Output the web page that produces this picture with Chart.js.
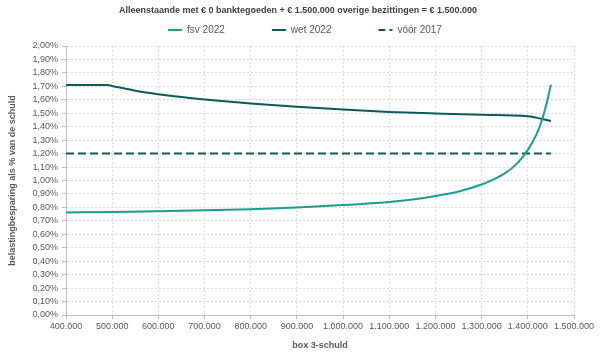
<!DOCTYPE html>
<html>
<head>
<meta charset="utf-8">
<script src="https://cdn.jsdelivr.net/npm/chart.js@4.4.1/dist/chart.umd.min.js"></script>
<style>
  html, body { margin: 0; padding: 0; background: #ffffff; }
  #wrap { width: 600px; height: 357px; }
</style>
</head>
<body>
<div id="wrap"><canvas id="c" width="600" height="357"></canvas></div>
<script>
// ---- data ----
const chartTitle = 'Alleenstaande met € 0 banktegoeden + € 1.500.000 overige bezittingen = € 1.500.000';
const seriesNames = ['fsv 2022', 'wet 2022', 'vóór 2017'];
const xAxisTitle = 'box 3-schuld';
const yAxisTitle = 'belastingbesparing als % van de schuld';

const fsvX = [400000, 500000, 600000, 700000, 800000, 900000, 1000000, 1100000, 1150000, 1200000, 1250000,
              1300000, 1325000, 1350000, 1370000, 1390000, 1400000, 1410000, 1420000, 1430000, 1440000, 1450000];
const fsvY = [0.762, 0.766, 0.771, 0.778, 0.787, 0.800, 0.817, 0.840, 0.858, 0.884, 0.918,
              0.970, 1.006, 1.053, 1.105, 1.180, 1.228, 1.285, 1.352, 1.443, 1.563, 1.713];

const wetX = [400000, 490000, 500000, 550000, 600000, 650000, 700000, 800000, 900000, 1000000,
              1100000, 1200000, 1300000, 1400000, 1450000];
const wetY = [1.710, 1.710, 1.703, 1.668, 1.642, 1.620, 1.602, 1.572, 1.548, 1.527,
              1.510, 1.498, 1.488, 1.478, 1.442];

const pre2017X = [400000, 1450000];
const pre2017Y = [1.20, 1.20];

const xMin = 400000, xMax = 1500000, xStep = 100000;
const yMin = 0, yMax = 2, yStep = 0.1;

// ---- helpers ----
const toPoints = (xs, ys) => xs.map((x, i) => ({ x: x, y: ys[i] }));
const fmtThousands = v => Math.round(v).toString().replace(/\B(?=(\d{3})+(?!\d))/g, '.');
const fmtPct = v => v.toFixed(2).replace('.', ',') + '%';

const FONT = "'Liberation Sans', Arial, sans-serif";
const TEXT = '#595959';
const GRID = '#d9d9d9';
const AXIS = '#bfbfbf';
const C_FSV = '#1a9e8c';
const C_WET = '#0f5a56';

// place title and legend band (Chart.js uses one legend padding value for both directions)
const headerBand = {
  id: 'headerBand',
  afterInit(chart) {
    const lg = chart.legend;
    if (!lg) return;
    const fit = lg.fit;
    lg.fit = function () { fit.call(this); this.height = 25.6; };
  },
  afterLayout(chart) {
    const lg = chart.legend;
    if (lg) {
      const pad = lg.options.labels.padding;
      const fs = lg.options.labels.font.size;
      lg.top = 30 - pad - fs / 2;
      lg.left += 18;
      lg.right += 18;
    }
    const tb = chart.titleBlock;
    if (tb) { tb.left += 11; tb.right += 11; }
  }
};

new Chart(document.getElementById('c'), {
  type: 'line',
  data: {
    datasets: [
      {
        label: seriesNames[0],
        data: toPoints(fsvX, fsvY),
        borderColor: C_FSV, backgroundColor: C_FSV,
        borderWidth: 2, pointRadius: 0, cubicInterpolationMode: 'monotone', fill: false
      },
      {
        label: seriesNames[1],
        data: toPoints(wetX, wetY),
        borderColor: C_WET, backgroundColor: C_WET,
        borderWidth: 2, pointRadius: 0, cubicInterpolationMode: 'monotone', fill: false
      },
      {
        label: seriesNames[2],
        data: toPoints(pre2017X, pre2017Y),
        borderColor: C_WET, backgroundColor: C_WET,
        borderWidth: 2, borderDash: [8, 4], pointRadius: 0, fill: false
      }
    ]
  },
  options: {
    responsive: false,
    animation: false,
    devicePixelRatio: 1,
    layout: { padding: { left: 0, right: 26, top: 0, bottom: 0 } },
    plugins: {
      title: {
        display: true,
        text: chartTitle,
        color: '#404040',
        font: { family: FONT, size: 9, weight: 'bold' },
        padding: { top: 5.6, bottom: 4 }
      },
      legend: {
        display: true,
        position: 'top',
        labels: {
          color: TEXT,
          font: { family: FONT, size: 10 },
          usePointStyle: true,
          pointStyle: 'line',
          pointStyleWidth: 14,
          padding: 47,
          generateLabels: (chart) => {
            const items = Chart.defaults.plugins.legend.labels.generateLabels(chart);
            items.forEach(it => {
              const ds = chart.data.datasets[it.datasetIndex];
              it.lineDash = ds.borderDash ? [7, 4] : [];
              it.strokeStyle = ds.borderColor;
              it.lineWidth = ds.borderWidth;
            });
            return items;
          }
        }
      },
      tooltip: { enabled: false }
    },
    scales: {
      x: {
        type: 'linear',
        min: xMin, max: xMax,
        afterFit: s => { s.height = 42; },
        ticks: {
          stepSize: xStep,
          color: TEXT,
          font: { family: FONT, size: 9 },
          padding: 2,
          maxRotation: 0,
          autoSkip: false,
          callback: v => fmtThousands(v)
        },
        grid: { color: GRID, lineWidth: 1, tickLength: 4, tickColor: AXIS, tickBorderDash: [] },
        border: { display: true, color: AXIS, width: 1, dash: [2, 2] },
        title: {
          display: true, text: xAxisTitle, color: TEXT,
          font: { family: FONT, size: 9, weight: 'bold' },
          padding: { top: 0, bottom: 5.6 }
        }
      },
      y: {
        type: 'linear',
        min: yMin, max: yMax,
        afterFit: s => { s.width = 66; },
        ticks: {
          stepSize: yStep,
          color: TEXT,
          font: { family: FONT, size: 9 },
          padding: 4,
          autoSkip: false,
          callback: v => fmtPct(v)
        },
        grid: { color: GRID, lineWidth: 1, tickLength: 4, tickColor: AXIS, tickBorderDash: [] },
        border: { display: true, color: AXIS, width: 1, dash: [2, 2] },
        title: {
          display: true, text: yAxisTitle, color: TEXT,
          font: { family: FONT, size: 9, weight: 'bold' },
          padding: { top: 7.6, bottom: 0 }
        }
      }
    }
  },
  plugins: [headerBand]
});
</script>
</body>
</html>
